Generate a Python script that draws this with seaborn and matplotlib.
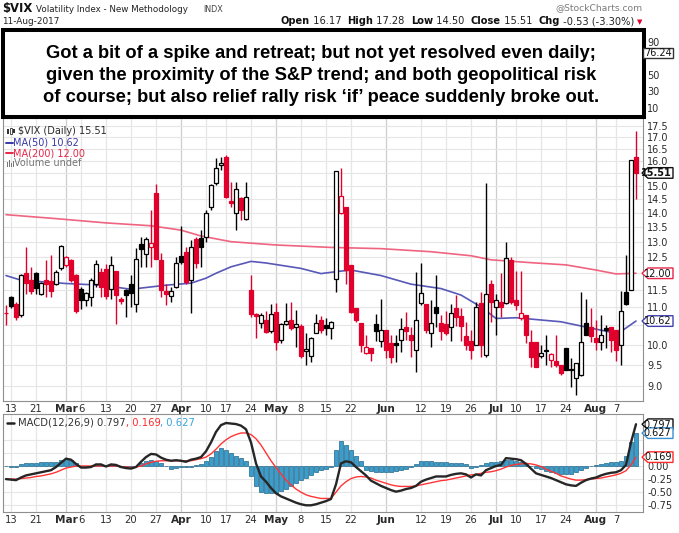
import numpy as np
import pandas as pd
import matplotlib
matplotlib.use("Agg")
import matplotlib.pyplot as plt
from matplotlib.patches import Rectangle, Polygon
from matplotlib.lines import Line2D
from matplotlib.ticker import FixedLocator, NullLocator, NullFormatter
import seaborn as sns

# ---------------- data ----------------
opens = [10.83, 11.28, 11.10, 10.78, 12.00, 11.79, 12.02, 11.39, 11.80, 11.76,
         11.69, 12.15, 12.26, 12.41, 11.95, 11.54, 11.22, 11.30, 11.69, 12.05,
         12.12, 11.54, 12.08, 11.25, 11.51, 11.67, 11.10, 12.93, 12.61, 12.84,
         14.74, 12.41, 11.47, 11.32, 11.59, 12.54, 12.68, 11.81, 13.09, 13.12,
         13.18, 14.23, 15.12, 15.83, 16.17, 14.45, 13.99, 14.54, 13.78, 11.49,
         10.80, 10.56, 10.66, 10.34, 10.87, 10.12, 10.54, 10.66, 10.47, 10.49,
         9.83, 9.70, 10.30, 10.66, 10.50, 10.43, 11.84, 14.01, 14.20, 12.26,
         10.97, 10.56, 9.78, 9.90, 10.54, 10.09, 10.37, 10.05, 10.05, 10.11,
         10.46, 10.26, 9.86, 11.12, 11.08, 10.30, 11.01, 10.58, 10.54, 10.47,
         10.99, 10.75, 10.22, 10.09, 10.00, 11.12, 9.73, 11.69, 11.01, 11.15,
         11.12, 12.43, 11.20, 10.71, 10.78, 10.07, 10.07, 9.71, 9.87, 9.62,
         9.60, 9.49, 9.90, 9.38, 9.17, 9.25, 10.58, 10.47, 10.17, 10.07,
         10.43, 10.47, 10.39, 10.00, 11.44, 11.51, 16.17]
highs = [11.06, 11.33, 11.15, 11.97, 12.84, 12.20, 12.05, 11.73, 12.40, 12.57,
         12.10, 12.90, 12.55, 12.45, 11.98, 11.58, 11.45, 11.85, 12.40, 12.15,
         12.30, 12.55, 12.08, 11.30, 11.54, 11.95, 12.79, 13.15, 13.16, 14.12,
         15.09, 12.63, 11.69, 11.60, 12.51, 13.55, 12.84, 13.05, 13.18, 13.40,
         14.11, 15.09, 16.10, 16.17, 16.24, 15.16, 15.16, 14.60, 15.16, 11.95,
         10.83, 10.85, 10.90, 11.10, 11.13, 10.56, 11.13, 11.15, 10.92, 10.54,
         10.30, 10.20, 10.80, 10.75, 10.70, 10.61, 15.59, 15.69, 14.20, 12.26,
         10.97, 10.56, 10.26, 9.90, 10.81, 11.25, 10.37, 10.26, 10.26, 10.71,
         10.87, 10.47, 12.05, 12.33, 11.08, 11.22, 11.95, 10.78, 10.90, 11.10,
         11.35, 10.99, 10.60, 10.39, 11.15, 11.44, 15.12, 11.79, 11.39, 12.00,
         13.01, 12.50, 12.08, 12.08, 10.78, 10.39, 10.07, 9.98, 10.24, 9.78,
         10.24, 9.49, 9.90, 9.65, 9.54, 11.44, 11.25, 10.97, 10.64, 10.78,
         10.51, 10.47, 10.39, 11.47, 12.57, 16.04, 17.28]
lows = [10.51, 10.97, 10.66, 10.72, 11.39, 11.39, 11.39, 11.35, 11.30, 11.30,
        11.64, 12.10, 12.20, 11.75, 10.85, 10.95, 11.05, 11.05, 11.60, 11.30,
        11.25, 11.25, 10.54, 11.10, 10.73, 11.00, 10.87, 12.20, 12.20, 12.20,
        12.46, 11.30, 11.06, 11.15, 11.55, 12.30, 11.69, 10.84, 12.15, 12.20,
        13.01, 14.12, 15.03, 15.63, 14.55, 14.20, 13.41, 13.76, 13.76, 10.73,
        10.17, 10.43, 10.30, 10.30, 9.86, 10.03, 10.52, 10.37, 9.94, 9.65,
        9.49, 9.57, 10.29, 10.30, 10.26, 10.15, 11.44, 13.97, 11.69, 10.85,
        10.60, 9.82, 9.76, 9.60, 10.09, 9.94, 9.65, 9.54, 9.57, 9.82,
        10.11, 9.68, 9.33, 11.06, 10.30, 9.94, 10.47, 10.11, 10.26, 10.09,
        10.49, 10.09, 9.86, 9.63, 9.98, 9.69, 9.68, 10.60, 10.26, 10.73,
        11.08, 11.10, 10.92, 10.64, 10.03, 9.45, 9.44, 9.65, 9.49, 9.45,
        9.45, 9.25, 9.36, 8.98, 8.80, 9.23, 10.24, 10.07, 9.87, 9.86,
        9.90, 9.80, 9.60, 9.49, 11.06, 11.49, 14.50]
closes = [10.85, 11.05, 10.72, 11.95, 11.70, 11.47, 11.55, 11.71, 11.68, 11.47,
          12.05, 12.87, 12.50, 11.79, 10.90, 11.22, 11.42, 11.80, 12.28, 11.60,
          11.32, 12.26, 11.35, 11.18, 11.34, 11.40, 12.45, 12.78, 13.10, 12.95,
          12.46, 11.49, 11.38, 11.47, 12.33, 12.36, 11.74, 12.84, 12.31, 12.82,
          14.01, 15.03, 15.69, 15.92, 14.60, 14.38, 14.87, 14.11, 14.60, 10.80,
          10.76, 10.78, 10.32, 10.80, 10.07, 10.54, 10.62, 10.43, 10.54, 9.71,
          9.89, 10.17, 10.56, 10.37, 10.42, 10.60, 15.59, 14.62, 12.10, 10.87,
          10.64, 9.98, 9.94, 9.78, 10.34, 10.37, 9.87, 9.69, 10.00, 10.41,
          10.34, 10.11, 10.66, 11.41, 10.37, 10.58, 10.84, 10.34, 10.30, 10.83,
          10.73, 10.49, 10.00, 9.85, 11.01, 10.00, 11.39, 11.15, 11.20, 11.01,
          12.49, 11.15, 11.06, 10.84, 10.26, 9.68, 9.45, 9.78, 9.84, 9.76,
          9.49, 9.29, 9.36, 9.40, 9.54, 10.07, 10.26, 10.22, 10.07, 10.26,
          10.39, 10.12, 9.86, 10.90, 11.08, 16.04, 15.51]

ma50_idx = [0, 3, 12, 19, 25, 32, 37, 40, 42, 45, 49, 52, 59, 63, 66, 69, 75,
            81, 87, 91, 95, 98, 102, 111, 117, 121, 123, 126]
ma50_val = [11.93, 11.79, 11.69, 11.64, 11.52, 11.64, 11.70, 11.85, 12.00, 12.20,
            12.37, 12.32, 12.15, 11.99, 12.05, 12.10, 11.93, 11.67, 11.54, 11.35,
            11.01, 10.69, 10.71, 10.60, 10.43, 10.32, 10.34, 10.62]
ma200_idx = [0, 10, 20, 29, 35, 39, 45, 54, 65, 75, 85, 93, 97, 105, 112, 118, 122, 126]
ma200_val = [13.94, 13.80, 13.65, 13.55, 13.40, 13.20, 13.01, 12.90, 12.82, 12.78,
             12.68, 12.55, 12.42, 12.33, 12.26, 12.10, 11.98, 12.00]

macd = [-0.25, -0.26, -0.27, -0.22, -0.18, -0.16, -0.14, -0.12, -0.10, -0.08,
        -0.02, 0.06, 0.14, 0.12, 0.04, -0.03, -0.03, -0.02, 0.03, 0.03,
        -0.01, 0.03, 0.02, -0.02, -0.04, -0.05, -0.02, 0.08, 0.17, 0.23,
        0.22, 0.16, 0.12, 0.10, 0.11, 0.10, 0.08, 0.12, 0.14, 0.17,
        0.28, 0.45, 0.65, 0.78, 0.82, 0.81, 0.80, 0.77, 0.70, 0.45,
        0.05, -0.20, -0.30, -0.42, -0.52, -0.58, -0.62, -0.66, -0.70, -0.73,
        -0.75, -0.75, -0.73, -0.70, -0.67, -0.63, -0.35, 0.05, 0.09, 0.07,
        -0.02, -0.10, -0.18, -0.28, -0.33, -0.38, -0.42, -0.46, -0.49, -0.47,
        -0.44, -0.42, -0.38, -0.30, -0.26, -0.23, -0.20, -0.20, -0.20, -0.17,
        -0.15, -0.14, -0.16, -0.22, -0.16, -0.18, -0.08, -0.04, 0.00, 0.02,
        0.15, 0.14, 0.13, 0.11, 0.04, -0.05, -0.14, -0.17, -0.20, -0.23,
        -0.27, -0.31, -0.35, -0.37, -0.38, -0.32, -0.27, -0.24, -0.22, -0.18,
        -0.15, -0.13, -0.12, -0.08, 0.02, 0.45, 0.797]
signal = [-0.25, -0.25, -0.25, -0.24, -0.23, -0.22, -0.20, -0.19, -0.17, -0.15,
          -0.12, -0.08, -0.04, -0.02, 0.00, 0.00, 0.00, 0.00, 0.00, 0.00,
          0.00, 0.00, 0.00, -0.01, -0.02, -0.03, -0.02, 0.00, 0.04, 0.07,
          0.09, 0.10, 0.10, 0.10, 0.10, 0.10, 0.10, 0.10, 0.12, 0.14,
          0.17, 0.23, 0.32, 0.42, 0.50, 0.56, 0.60, 0.63, 0.63, 0.60,
          0.52, 0.40, 0.25, 0.10, -0.03, -0.15, -0.27, -0.36, -0.44, -0.50,
          -0.55, -0.58, -0.60, -0.62, -0.62, -0.62, -0.50, -0.38, -0.30, -0.24,
          -0.21, -0.20, -0.21, -0.23, -0.27, -0.30, -0.33, -0.36, -0.38, -0.39,
          -0.39, -0.39, -0.38, -0.36, -0.34, -0.32, -0.30, -0.28, -0.27, -0.25,
          -0.23, -0.21, -0.19, -0.17, -0.16, -0.14, -0.12, -0.11, -0.09, -0.06,
          -0.02, 0.01, 0.03, 0.04, 0.05, 0.04, 0.02, -0.01, -0.06, -0.10,
          -0.14, -0.19, -0.22, -0.25, -0.27, -0.27, -0.26, -0.25, -0.24, -0.23,
          -0.21, -0.19, -0.17, -0.14, -0.09, 0.02, 0.169]
hist = [0.00, -0.01, -0.01, 0.04, 0.05, 0.06, 0.06, 0.08, 0.08, 0.08,
        0.08, 0.11, 0.14, 0.12, 0.05, 0.00, 0.00, 0.00, 0.02, 0.02,
        0.00, 0.02, 0.01, -0.01, -0.02, -0.03, 0.00, 0.05, 0.10, 0.12,
        0.10, 0.05, 0.00, -0.05, -0.03, -0.01, -0.02, -0.01, 0.02, 0.04,
        0.10, 0.18, 0.28, 0.34, 0.30, 0.24, 0.20, 0.16, 0.10, -0.20,
        -0.38, -0.50, -0.52, -0.52, -0.52, -0.48, -0.44, -0.38, -0.33, -0.27,
        -0.22, -0.17, -0.12, -0.08, -0.05, -0.02, 0.30, 0.47, 0.40, 0.30,
        0.20, 0.10, -0.08, -0.10, -0.11, -0.12, -0.12, -0.11, -0.10, -0.08,
        -0.05, -0.02, 0.03, 0.09, 0.10, 0.09, 0.08, 0.07, 0.07, 0.06,
        0.06, 0.05, 0.03, -0.03, -0.02, 0.02, 0.05, 0.07, 0.08, 0.10,
        0.12, 0.12, 0.10, 0.07, 0.05, 0.00, -0.04, -0.06, -0.10, -0.12,
        -0.14, -0.15, -0.15, -0.15, -0.12, -0.08, -0.04, 0.00, 0.02, 0.04,
        0.06, 0.07, 0.08, 0.10, 0.20, 0.45, 0.627]

date_idx = [1, 6, 12, 15, 20, 25, 30, 35, 40, 44, 49, 54, 59, 64, 69, 76, 83, 88,
            93, 98, 102, 107, 112, 118, 122]
date_lbl = ["13", "21", "Mar", "6", "13", "20", "27", "Apr", "10", "17", "24", "May",
            "8", "15", "22", "Jun", "12", "19", "26", "Jul", "10", "17", "24", "Aug", "7"]
price_ticks = [9.0, 9.5, 10.0, 10.5, 11.0, 11.5, 12.0, 12.5, 13.0, 13.5, 14.0,
               14.5, 15.0, 15.5, 16.0, 16.5, 17.0, 17.5]
macd_ticks = [-0.75, -0.50, -0.25, 0.00, 0.25, 0.50]
rsi_ticks = [10, 30, 50, 70, 90]
rsi_last = 76.24

note_lines = ["Got a bit of a spike and retreat; but not yet resolved even daily;",
              "given the proximity of the S&P trend; and both geopolitical risk",
              "of course; but also relief rally risk \u2018if\u2019 peace suddenly broke out."]

# ---------------- styling ----------------
sns.set_theme(style="white")
plt.rcParams["font.family"] = ["DejaVu Sans"]

RED = "#e1002b"
MA50_C = "#5858b8"
MA200_C = "#ef6480"
GRID = "#e6e6e6"
GRID_M = "#cdcdcd"
SPINE = "#8f8f8f"
TXT = "#2b2b2b"

W, H = 679, 533
fig = plt.figure(figsize=(W / 100, H / 100), dpi=100)
fig.patch.set_facecolor("white")


def frac(x0, y0, x1, y1):
    return [x0 / W, 1 - y1 / H, (x1 - x0) / W, (y1 - y0) / H]


ax_rsi = fig.add_axes(frac(3, 33.5, 643, 116))
ax = fig.add_axes(frac(3, 118, 643, 401))
axm = fig.add_axes(frac(3, 414, 643, 512))

n = len(closes)
idx = np.arange(n)
df = pd.DataFrame({"i": idx, "o": opens, "h": highs, "l": lows, "c": closes})
prev = df["c"].shift(1)
black_day = (df["c"] >= prev).fillna(False).to_numpy()
colors = np.where(black_day, "black", RED)
filled = (df["c"] < df["o"]).to_numpy()

XMIN, XMAX = -0.6, 127.4
for a in (ax_rsi, ax, axm):
    a.set_xlim(XMIN, XMAX)
    a.set_facecolor("white")
    for s in a.spines.values():
        s.set_color(SPINE)
        s.set_linewidth(0.8)
    for di, lb in zip(date_idx, date_lbl):
        month = lb.isalpha()
        a.axvline(di, color=GRID_M if month else GRID, lw=0.9, zorder=0)

# --- price panel ---
ax.set_yscale("log")
ax.set_ylim(8.656, 17.85)
for pv in price_ticks:
    ax.axhline(pv, color=GRID, lw=0.8, zorder=0)
ax.vlines(df["i"], df["l"], df["h"], colors=colors, lw=1.0, zorder=3)
for i in range(n):
    o, c = opens[i], closes[i]
    lo, hi = min(o, c), max(o, c)
    ht = max(hi - lo, 0.015)
    ax.bar(i, ht, bottom=lo, width=0.68,
           facecolor=colors[i] if filled[i] else "white",
           edgecolor=colors[i], linewidth=0.9, zorder=4)
sns.lineplot(x=ma200_idx, y=ma200_val, ax=ax, color=MA200_C, lw=1.2, zorder=2, legend=False)
sns.lineplot(x=ma50_idx, y=ma50_val, ax=ax, color=MA50_C, lw=1.2, zorder=2, legend=False)
ax.yaxis.set_minor_locator(NullLocator())
ax.yaxis.set_minor_formatter(NullFormatter())
ax.yaxis.tick_right()
ax.set_xlabel("")
ax.set_ylabel("")

# --- MACD panel ---
axm.set_ylim(-0.878, 0.992)
for mv in macd_ticks:
    axm.axhline(mv, color=GRID, lw=0.8, zorder=0)
axm.bar(idx, hist, width=0.9, color="#3a9dcb", edgecolor="#23678a", linewidth=0.5, zorder=2)
sns.lineplot(x=idx, y=signal, ax=axm, color="#ff3434", lw=1.0, zorder=3, legend=False)
sns.lineplot(x=idx, y=macd, ax=axm, color="#262626", lw=1.7, zorder=4, legend=False)
axm.yaxis.tick_right()
axm.set_xlabel("")
axm.set_ylabel("")

# --- hidden top panel (covered by note) ---
ax_rsi.set_ylim(0, 100)
ax_rsi.yaxis.tick_right()
ax_rsi.set_xticks([])

for a in (ax, axm):
    a.set_xticks(date_idx)
    a.set_xticklabels(date_lbl)
    a.tick_params(axis="x", length=0, pad=2.5, labelsize=7.2, labelcolor=TXT)
    for t, lb in zip(a.get_xticklabels(), date_lbl):
        if lb.isalpha():
            t.set_fontweight("bold")
            t.set_fontsize(7.6)


def py(a, v):
    return H - a.transData.transform((0, v))[1]


# value tags: (axes, value, text, edge colour, bold, arrow)
tags = [(ax_rsi, rsi_last, f"{rsi_last:.2f}", "#333", False, False),
        (ax, closes[-1], f"{closes[-1]:.2f}", "#111", True, True),
        (ax, ma200_val[-1], f"{ma200_val[-1]:.2f}", "#e8264a", False, True),
        (ax, ma50_val[-1], f"{ma50_val[-1]:.2f}", "#4040b0", False, True),
        (axm, macd[-1], f"{macd[-1]:.3f}", "#111", False, True),
        (axm, hist[-1], f"{hist[-1]:.3f}", "#3a8fd0", False, True),
        (axm, signal[-1], f"{signal[-1]:.3f}", "#ff2b2b", False, True)]


def set_right_labels(a, ticks, fmt):
    tys = [py(t[0], t[1]) for t in tags if t[0] is a]
    labels = [fmt.format(v) if all(abs(py(a, v) - ty) > 7.5 for ty in tys) else "" for v in ticks]
    a.yaxis.set_major_locator(FixedLocator(ticks))
    a.set_yticklabels(labels)
    a.tick_params(axis="y", length=0, pad=3, labelsize=7, labelcolor=TXT)


set_right_labels(ax, price_ticks, "{:.1f}")
set_right_labels(axm, macd_ticks, "{:.2f}")
set_right_labels(ax_rsi, rsi_ticks, "{:.0f}")

# ---------------- overlay (pixel coordinates) ----------------
ov = fig.add_axes([0, 0, 1, 1], zorder=10)
ov.set_xlim(0, W)
ov.set_ylim(H, 0)
ov.axis("off")
ov.patch.set_alpha(0)
r = fig.canvas.get_renderer()


def seq(x, y, parts, size, align="left"):
    ts, ws = [], []
    for s, wgt, col in parts:
        t = ov.text(0, y, s, fontsize=size, fontweight=wgt, color=col, ha="left", va="center")
        ts.append(t)
        ws.append(t.get_window_extent(r).width)
    if align == "right":
        x = x - sum(ws)
    for t, wd in zip(ts, ws):
        t.set_x(x)
        x += wd
    return x


def draw_tag(y, text, ec, bold=False, arrow=True):
    x0, x1, hh = 642, 673, 5.3
    if arrow:
        pts = [(x0, y), (x0 + 6, y - hh), (x1, y - hh), (x1, y + hh), (x0 + 6, y + hh)]
    else:
        pts = [(x0 + 1, y - hh), (x1, y - hh), (x1, y + hh), (x0 + 1, y + hh)]
    ov.add_patch(Polygon(pts, closed=True, facecolor="white", edgecolor=ec, lw=1.0, zorder=5))
    ov.text(x1 - 1.5, y + 0.3, text, fontsize=7, ha="right", va="center", color="#111111",
            fontweight="bold" if bold else "normal", zorder=6)


# header
ov.text(2, 8.5, "$VIX", fontsize=8.4, fontweight="bold", color="#111", va="center")
ov.text(36, 9, "Volatility Index - New Methodology", fontsize=6.3, color="#222", va="center")
ov.text(203, 9, "INDX", fontsize=5.8, color="#444", va="center")
ov.text(2, 22, "11-Aug-2017", fontsize=6.4, color="#222", va="center")
ov.text(643, 7.5, "@StockCharts.com", fontsize=6.6, color="#7a7a7a", ha="right", va="center")
seq(634, 21.5, [("Open", "bold", "#111"), (" 16.17  ", "normal", "#222"),
                ("High", "bold", "#111"), (" 17.28  ", "normal", "#222"),
                ("Low", "bold", "#111"), (" 14.50  ", "normal", "#222"),
                ("Close", "bold", "#111"), (" 15.51  ", "normal", "#222"),
                ("Chg", "bold", "#111"), (" -0.53 (-3.30%)", "normal", "#222")],
    7.1, align="right")
ov.text(640, 22, "\u25bc", fontsize=5, color=RED, ha="center", va="center")

# note box
ov.add_patch(Rectangle((3, 30.3), 641, 86.7, facecolor="white", edgecolor="black", lw=2.9, zorder=3))
for k, line in enumerate(note_lines):
    ov.text(321, 53.3 + 22 * k, line, fontsize=13.2, fontweight="bold", ha="center", va="center",
            family=["Liberation Sans", "DejaVu Sans"], color="black", zorder=4)

# legends in price panel
ov.add_patch(Rectangle((7, 128.5), 2, 5, facecolor="#333", lw=0))
ov.add_patch(Rectangle((10, 127.5), 2, 6, facecolor="white", edgecolor="#333", lw=0.6))
ov.add_patch(Rectangle((13, 129), 2, 4, facecolor="#333", lw=0))
ov.text(18, 131, "$VIX (Daily) 15.51", fontsize=7, color=TXT, va="center")
ov.add_line(Line2D([6, 13], [142.5, 142.5], color="#3838a8", lw=1.4))
ov.text(13, 142.5, "MA(50) 10.62", fontsize=7, color="#3838a8", va="center")
ov.add_line(Line2D([6, 13], [153, 153], color="#e8264a", lw=1.4))
ov.text(13, 153, "MA(200) 12.00", fontsize=7, color="#e8264a", va="center")
for bx, bh in [(6.5, 5), (8.5, 7), (10.5, 4), (12.5, 6)]:
    ov.add_patch(Rectangle((bx, 166.5 - bh), 1.4, bh, facecolor="#777", lw=0))
ov.text(14.5, 163.3, "Volume undef", fontsize=7, color="#777", va="center")

# MACD legend
ov.add_line(Line2D([7, 14], [422.7, 422.7], color="#222", lw=1.8))
seq(18, 422.7, [("MACD(12,26,9) 0.797", "normal", "#333"), (", 0.169", "normal", "#ff2b2b"),
                (", 0.627", "normal", "#36a6dc")], 7.2)

for a, v, txt, ec, bold, arrow in tags:
    draw_tag(py(a, v), txt, ec, bold=bold, arrow=arrow)

fig.savefig("out.png", dpi=100, facecolor="white")
